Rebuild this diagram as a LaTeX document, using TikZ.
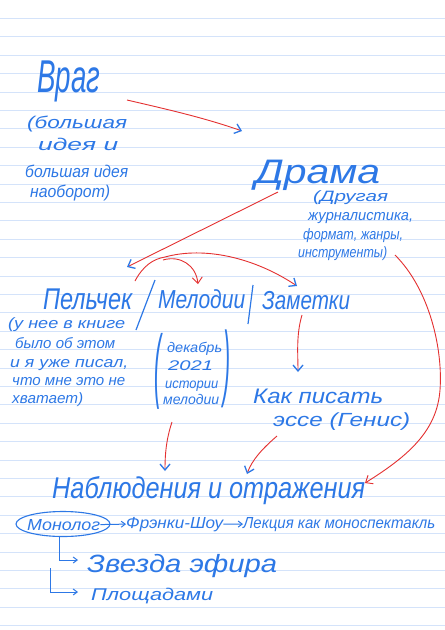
\documentclass[tikz,border=0pt]{standalone}
\usepackage{fontspec}
\setmainfont{Liberation Sans}
\usetikzlibrary{arrows.meta,shapes.geometric}
\definecolor{pen}{RGB}{45,120,230}
\definecolor{redpen}{RGB}{228,48,48}
\definecolor{ruleline}{RGB}{212,227,250}
\newcommand\hw[3]{\resizebox{#1pt}{\height}{\fontsize{#2}{#2}\selectfont\itshape #3}}
\newcommand\tallparen[3]{\resizebox*{#1pt}{#2pt}{\fontsize{14}{14}\selectfont\itshape #3}}
\begin{document}
\begin{tikzpicture}[x=1pt,y=-1pt,
  hand/.style={inner sep=0pt, anchor=base west, text=pen},
  redline/.style={draw=redpen, line width=0.9pt},
  bluetip/.style={-{Straight Barb[color=pen,length=6pt,width=10pt,line width=1.3pt]}},
  redtip/.style={-{Straight Barb[color=redpen,length=6pt,width=10pt]}},
  penline/.style={draw=pen, line width=1.2pt},
  smalltip/.style={-{Straight Barb[length=4pt,width=6pt]}}]
\fill[white] (0,0) rectangle (445,630);
\useasboundingbox (0,0) rectangle (445,630);
\foreach \k in {0,...,33} \draw[ruleline, line width=0.8pt] (0,{18.3+18.4*\k}) -- (445,{18.3+18.4*\k});
% Vrag
\node[hand] (vrag) at (37,92) {\hw{63}{46}{Враг}};
\node[hand] (vrag1) at (27,128) {\hw{100}{17}{(большая}};
\node[hand] (vrag2) at (38,150) {\hw{80}{17}{идея и}};
\node[hand] (vrag3) at (25,177) {\hw{103}{17}{большая идея}};
\node[hand] (vrag4) at (30,197) {\hw{80}{17}{наоборот)}};
% Drama
\node[hand] (drama) at (255,183) {\hw{125}{34}{Драма}};
\node[hand] (dr1) at (313,201) {\hw{75}{15}{(Другая}};
\node[hand] (dr2) at (308,220) {\hw{105}{15}{журналистика,}};
\node[hand] (dr3) at (303,239) {\hw{100}{15}{формат, жанры,}};
\node[hand] (dr4) at (298,257) {\hw{89}{15}{инструменты)}};
% row
\node[hand] (pel) at (43,309) {\hw{89}{30}{Пельчек}};
\node[hand] (mel) at (158,308) {\hw{87}{26}{Мелодии}};
\node[hand] (zam) at (262,309) {\hw{88}{26}{Заметки}};
\draw[penline] (155,280) -- (136,330);
\draw[penline] (253,285) -- (248,324);
% Pelchek note
\node[hand] (p1) at (8,328) {\hw{117}{15}{(у нее в книге}};
\node[hand] (p2) at (15,348) {\hw{100}{15}{было об этом}};
\node[hand] (p3) at (10,367) {\hw{118}{15}{и я уже писал,}};
\node[hand] (p4) at (12,385) {\hw{113}{15}{что мне это не}};
\node[hand] (p5) at (12,403) {\hw{71}{15}{хватает)}};
% Melodii note
\node[hand, anchor=north west] (mp1) at (154,333) {\tallparen{7}{76}{(}};
\node[hand] (m1) at (167,352) {\hw{55}{14}{декабрь}};
\node[hand] (m2) at (168,370) {\hw{45}{14}{2021}};
\node[hand] (m3) at (165,388) {\hw{53}{14}{истории}};
\node[hand] (m4) at (163,404) {\hw{56}{14}{мелодии}};
\node[hand, anchor=north west] (mp2) at (223,330) {\tallparen{7}{78}{)}};
% Kak pisat
\node[hand] (kak1) at (253,403) {\hw{130}{21}{Как писать}};
\node[hand] (kak2) at (273,426) {\hw{137}{19}{эссе (Генис)}};
% Nabludeniya
\node[hand] (nab) at (52,498) {\hw{313}{30}{Наблюдения и отражения}};
% Monolog row
\node[draw=pen, line width=1.1pt, ellipse, minimum width=94pt, minimum height=25pt, inner sep=0pt] (monoell) at (63,524) {};
\node[hand] (mono) at (27,530) {\hw{73}{16}{Монолог}};
\node[hand] (frank) at (126,528) {\hw{97}{16}{Фрэнки-Шоу}};
\node[hand] (lek) at (243,528) {\hw{192}{16}{Лекция как моноспектакль}};
\draw[penline, line width=1pt, smalltip] (mono.east) -- (frank.west);
\draw[penline, line width=1pt, smalltip] (frank.east) -- (lek.west);
\node[hand] (zv) at (87,572) {\hw{190}{25}{Звезда эфира}};
\node[hand] (pl) at (91,600) {\hw{122}{17}{Площадами}};
\coordinate (zvin) at (78,560);
\coordinate (plstart) at (50,568);
\coordinate (plin) at (78,592);
\draw[penline, line width=1pt, smalltip] (monoell.255) |- (zvin);
\draw[penline, line width=1pt, smalltip] (plstart) |- (plin);
% red connectors
\coordinate (a1s) at (127,100);
\coordinate (a1e) at (242,131);
\draw[redline, bluetip] (a1s) .. controls (170,110) and (205,118) .. (a1e);
\coordinate (a2s) at (278,192);
\coordinate (a2e) at (127,267);
\draw[redline, bluetip] (a2s) -- (a2e);
\coordinate (a3s) at (135,281);
\coordinate (a3m) at (165,257);
\coordinate (a3e) at (297,286);
\draw[redline, bluetip] (a3s) .. controls (143,266) and (153,259) .. (a3m) .. controls (205,246) and (255,258) .. (a3e);
\coordinate (a4s) at (163,260);
\coordinate (a4e) at (198,284);
\draw[redline, redtip] (a4s) .. controls (180,255) and (196,265) .. (a4e);
\coordinate (a5s) at (395,255);
\coordinate (a5m) at (440,390);
\coordinate (a5e) at (365,483);
\draw[redline, redtip] (a5s) .. controls (430,290) and (443,350) .. (a5m) .. controls (437,430) and (410,455) .. (a5e);
\coordinate (a6s) at (302,315);
\coordinate (a6e) at (298,372);
\draw[redline, bluetip] (a6s) .. controls (296,335) and (298,355) .. (a6e);
\coordinate (a7s) at (172,422);
\coordinate (a7e) at (165,471);
\draw[redline, bluetip] (a7s) .. controls (166,440) and (165,455) .. (a7e);
\coordinate (a8s) at (277,436);
\coordinate (a8e) at (247,474);
\draw[redline, bluetip] (a8s) .. controls (262,449) and (252,460) .. (a8e);
\end{tikzpicture}
\end{document}
